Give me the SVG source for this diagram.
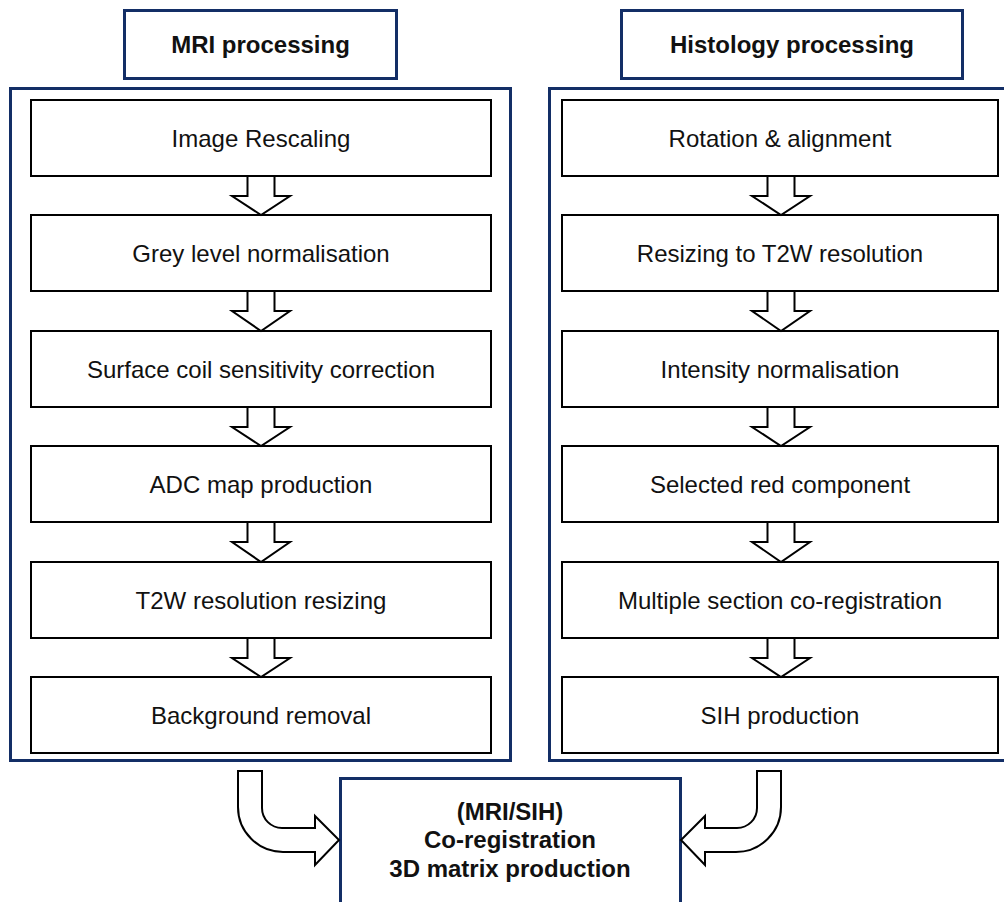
<svg xmlns="http://www.w3.org/2000/svg" width="1004" height="902" viewBox="0 0 1004 902">
<style>
.panel{fill:#fff;stroke:#132e66;stroke-width:3}
.step{fill:#fff;stroke:#000;stroke-width:2}
.arr{fill:#fff;stroke:#000;stroke-width:2;stroke-linejoin:miter}
.t{font-family:"Liberation Sans",Arial,sans-serif;font-size:24px;fill:#111;text-anchor:middle}
.b{font-weight:bold}
</style>
<rect width="1004" height="902" fill="#fff"/>
<g id="mri-title"><rect class="panel" x="124.5" y="10.5" width="272" height="68"/><text class="t b" x="260.5" y="53">MRI processing</text></g>
<g id="hist-title"><rect class="panel" x="621.5" y="10.5" width="341" height="68"/><text class="t b" x="792" y="53">Histology processing</text></g>
<g id="mri-panel"><rect class="panel" x="10.5" y="88.5" width="500" height="672"/></g>
<g id="hist-panel"><rect class="panel" x="549.5" y="88.5" width="470" height="672"/></g>
<g id="mri1"><rect class="step" x="31" y="100" width="460" height="76"/><text class="t" x="261" y="147">Image Rescaling</text></g>
<g id="mri2"><rect class="step" x="31" y="215" width="460" height="76"/><text class="t" x="261" y="262">Grey level normalisation</text></g>
<g id="mri3"><rect class="step" x="31" y="331" width="460" height="76"/><text class="t" x="261" y="378">Surface coil sensitivity correction</text></g>
<g id="mri4"><rect class="step" x="31" y="446" width="460" height="76"/><text class="t" x="261" y="493">ADC map production</text></g>
<g id="mri5"><rect class="step" x="31" y="562" width="460" height="76"/><text class="t" x="261" y="609">T2W resolution resizing</text></g>
<g id="mri6"><rect class="step" x="31" y="677" width="460" height="76"/><text class="t" x="261" y="724">Background removal</text></g>
<g id="hist1"><rect class="step" x="562" y="100" width="436" height="76"/><text class="t" x="780" y="147">Rotation &amp; alignment</text></g>
<g id="hist2"><rect class="step" x="562" y="215" width="436" height="76"/><text class="t" x="780" y="262">Resizing to T2W resolution</text></g>
<g id="hist3"><rect class="step" x="562" y="331" width="436" height="76"/><text class="t" x="780" y="378">Intensity normalisation</text></g>
<g id="hist4"><rect class="step" x="562" y="446" width="436" height="76"/><text class="t" x="780" y="493">Selected red component</text></g>
<g id="hist5"><rect class="step" x="562" y="562" width="436" height="76"/><text class="t" x="780" y="609">Multiple section co-registration</text></g>
<g id="hist6"><rect class="step" x="562" y="677" width="436" height="76"/><text class="t" x="780" y="724">SIH production</text></g>
<g id="final"><rect class="panel" x="340.5" y="778.5" width="340" height="140"/>
<text class="t b" x="510" y="820">(MRI/SIH)</text>
<text class="t b" x="510" y="848">Co-registration</text>
<text class="t b" x="510" y="877">3D matrix production</text></g>
<g id="connectors">
<path class="arr" d="M247.5,176 H274.5 V196 H290 L261,215 L232,196 H247.5 Z"/>
<path class="arr" d="M247.5,291 H274.5 V311 H290 L261,331 L232,311 H247.5 Z"/>
<path class="arr" d="M247.5,407 H274.5 V427 H290 L261,446 L232,427 H247.5 Z"/>
<path class="arr" d="M247.5,522 H274.5 V542 H290 L261,562 L232,542 H247.5 Z"/>
<path class="arr" d="M247.5,638 H274.5 V658 H290 L261,677 L232,658 H247.5 Z"/>
<path class="arr" d="M767.5,176 H794.5 V196 H810 L781,215 L752,196 H767.5 Z"/>
<path class="arr" d="M767.5,291 H794.5 V311 H810 L781,331 L752,311 H767.5 Z"/>
<path class="arr" d="M767.5,407 H794.5 V427 H810 L781,446 L752,427 H767.5 Z"/>
<path class="arr" d="M767.5,522 H794.5 V542 H810 L781,562 L752,542 H767.5 Z"/>
<path class="arr" d="M767.5,638 H794.5 V658 H810 L781,677 L752,658 H767.5 Z"/>
<path class="arr" d="M238,771 H262 V808 A20,20 0 0 0 282,828 H315 V816 L339,840 L315,865 V852 H283 A45,45 0 0 1 238,807 Z"/>
<path class="arr" d="M781,771 H757 V808 A20,20 0 0 1 737,828 H705 V816 L681,840 L705,865 V852 H736 A45,45 0 0 0 781,807 Z"/>
</g>
</svg>
